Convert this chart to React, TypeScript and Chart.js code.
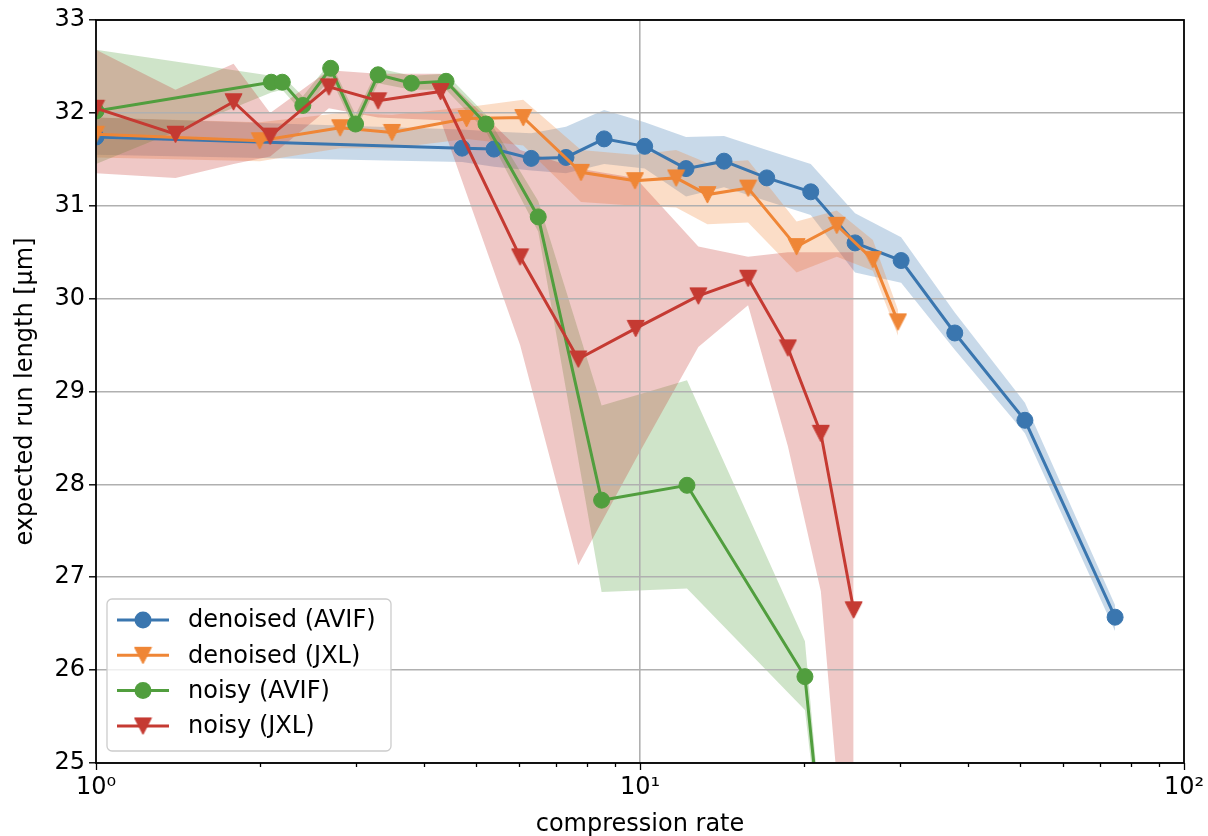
import React, { useEffect, useRef } from 'react';
import { Chart, registerables } from 'chart.js';

Chart.register(...registerables);

const FONT_FAMILY = '"DejaVu Sans", "Liberation Sans", sans-serif';
const FONT_SIZE = 24;

// ---- data ----
const BLUE_X = [1.0, 4.71, 5.39, 6.31, 7.31, 8.59, 10.2, 12.15, 14.27, 17.1, 20.6, 24.85, 30.2, 37.9, 51.0, 74.7];
const BLUE_Y = [31.74, 31.62, 31.61, 31.51, 31.52, 31.72, 31.64, 31.40, 31.48, 31.30, 31.15, 30.60, 30.41, 29.63, 28.69, 26.57];
const BLUE_UP = [31.95, 31.82, 31.80, 31.78, 31.85, 32.03, 31.90, 31.74, 31.75, 31.60, 31.45, 30.92, 30.66, 29.85, 28.88, 26.70];
const BLUE_LO = [31.55, 31.47, 31.42, 31.38, 31.35, 31.45, 31.40, 31.10, 31.20, 31.05, 30.90, 30.28, 30.17, 29.45, 28.55, 26.42];

const ORANGE_X = [1.0, 2.0, 2.81, 3.5, 4.8, 6.1, 7.79, 9.79, 11.65, 13.3, 15.8, 19.4, 23.0, 26.8, 29.8];
const ORANGE_Y = [31.77, 31.70, 31.84, 31.79, 31.94, 31.95, 31.36, 31.27, 31.30, 31.12, 31.19, 30.56, 30.79, 30.42, 29.75];
const ORANGE_UP = [31.95, 31.90, 32.00, 31.98, 32.06, 32.14, 31.60, 31.55, 31.60, 31.46, 31.49, 30.83, 30.95, 30.63, 29.88];
const ORANGE_LO = [31.52, 31.48, 31.62, 31.62, 31.72, 31.65, 31.04, 31.00, 30.98, 30.80, 30.82, 30.28, 30.45, 30.30, 29.60];

const GREEN_X = [1.0, 2.1, 2.2, 2.4, 2.7, 3.0, 3.3, 3.8, 4.4, 5.21, 6.5, 8.5, 12.2, 20.1, 21.2];
const GREEN_Y = [32.02, 32.33, 32.33, 32.08, 32.48, 31.88, 32.41, 32.32, 32.34, 31.88, 30.88, 27.83, 27.99, 25.93, 24.6];
const GREEN_UP = [32.68, 32.40, 32.40, 32.18, 32.55, 31.98, 32.48, 32.40, 32.42, 31.98, 31.05, 28.85, 29.12, 26.31, 24.8];
const GREEN_LO = [31.45, 32.22, 32.25, 32.00, 32.38, 31.80, 32.32, 32.25, 32.25, 31.80, 30.72, 26.84, 26.88, 25.57, 24.4];

const RED_X = [1.0, 1.4, 1.79, 2.09, 2.68, 3.3, 4.3, 6.02, 7.7, 9.82, 12.8, 15.8, 18.7, 21.5, 24.7];
const RED_Y = [32.05, 31.77, 32.12, 31.75, 32.28, 32.13, 32.23, 30.45, 29.35, 29.68, 30.03, 30.22, 29.47, 28.55, 26.65];
const RED_UP = [32.68, 32.25, 32.53, 32.00, 32.46, 32.42, 32.42, 31.60, 31.40, 31.30, 30.56, 30.45, 30.50, 30.50, 30.50];
const RED_LO = [31.35, 31.30, 31.45, 31.53, 32.05, 31.95, 31.92, 29.50, 27.13, 28.27, 29.48, 29.93, 28.41, 26.85, 22.7];

const X_TICKS = [1, 2, 3, 4, 5, 6, 7, 8, 9, 10, 20, 30, 40, 50, 60, 70, 80, 90, 100];
const X_TICK_LABELS: Record<number, string> = { 1: '10⁰', 10: '10¹', 100: '10²' };
const Y_MIN = 25;
const Y_MAX = 33;

const X_TITLE = 'compression rate';
const Y_TITLE = 'expected run length [µm]';

type Series = {
  label: string;
  color: string;
  marker: 'circle' | 'tri';
  xs: number[];
  ys: number[];
  up: number[];
  lo: number[];
};

const SERIES: Series[] = [
  { label: 'denoised (AVIF)', color: '#3a76af', marker: 'circle', xs: BLUE_X, ys: BLUE_Y, up: BLUE_UP, lo: BLUE_LO },
  { label: 'denoised (JXL)', color: '#ef8636', marker: 'tri', xs: ORANGE_X, ys: ORANGE_Y, up: ORANGE_UP, lo: ORANGE_LO },
  { label: 'noisy (AVIF)', color: '#519e3e', marker: 'circle', xs: GREEN_X, ys: GREEN_Y, up: GREEN_UP, lo: GREEN_LO },
  { label: 'noisy (JXL)', color: '#c53a32', marker: 'tri', xs: RED_X, ys: RED_Y, up: RED_UP, lo: RED_LO },
];

function hexToRgba(hex: string, a: number) {
  const r = parseInt(hex.slice(1, 3), 16);
  const g = parseInt(hex.slice(3, 5), 16);
  const b = parseInt(hex.slice(5, 7), 16);
  return `rgba(${r},${g},${b},${a})`;
}

function makeTriangle(color: string): HTMLCanvasElement {
  const c = document.createElement('canvas');
  c.width = 19;
  c.height = 19;
  const g = c.getContext('2d')!;
  g.fillStyle = color;
  g.strokeStyle = color;
  g.lineWidth = 1;
  g.lineJoin = 'miter';
  g.beginPath();
  g.moveTo(1, 1.5);
  g.lineTo(18, 1.5);
  g.lineTo(9.5, 18);
  g.closePath();
  g.fill();
  g.stroke();
  return c;
}

export default function App() {
  const ref = useRef<HTMLCanvasElement | null>(null);

  useEffect(() => {
    const canvas = ref.current;
    if (!canvas) return;
    Chart.defaults.color = '#000';
    Chart.defaults.font.family = FONT_FAMILY;

    const triangles: Record<string, HTMLCanvasElement> = {};
    SERIES.forEach((s) => {
      if (s.marker === 'tri') triangles[s.label] = makeTriangle(s.color);
    });

    const datasets: any[] = [];
    SERIES.forEach((s, i) => {
      datasets.push({
        label: s.label,
        data: s.xs.map((x, k) => ({ x, y: s.ys[k] })),
        borderColor: s.color,
        backgroundColor: s.color,
        borderWidth: 3,
        pointStyle: s.marker === 'tri' ? triangles[s.label] : 'circle',
        pointRadius: 8,
        pointBorderWidth: 1,
        pointBackgroundColor: s.color,
        pointBorderColor: s.color,
        pointHoverRadius: 8,
        fill: false,
        tension: 0,
        clip: 0,
        order: 10 - i,
        isLine: true,
        legendIndex: i,
      });
    });
    SERIES.forEach((s, i) => {
      const upIdx = datasets.length;
      datasets.push({
        label: s.label + ' band',
        data: s.xs.map((x, k) => ({ x, y: s.up[k] })),
        borderColor: 'rgba(0,0,0,0)',
        borderWidth: 0,
        pointRadius: 0,
        pointHoverRadius: 0,
        backgroundColor: hexToRgba(s.color, 0.28),
        fill: { target: upIdx + 1 },
        tension: 0,
        clip: 0,
        order: 30 - i,
      });
      datasets.push({
        label: s.label + ' band lo',
        data: s.xs.map((x, k) => ({ x, y: s.lo[k] })),
        borderColor: 'rgba(0,0,0,0)',
        borderWidth: 0,
        pointRadius: 0,
        pointHoverRadius: 0,
        fill: false,
        tension: 0,
        clip: 0,
        order: 30 - i,
      });
    });

    const frameAndTicks = {
      id: 'frameAndTicks',
      afterDatasetsDraw(chart: any) {
        const { ctx, chartArea } = chart;
        const xs = chart.scales.x;
        ctx.save();
        ctx.strokeStyle = '#000';
        ctx.lineWidth = 1.3;
        xs.ticks.forEach((t: any) => {
          const px = xs.getPixelForValue(t.value);
          const lg = Math.log10(t.value);
          const major = Math.abs(lg - Math.round(lg)) < 1e-9;
          const len = major ? 7 : 4;
          ctx.beginPath();
          ctx.moveTo(Math.round(px) + 0.5, chartArea.bottom);
          ctx.lineTo(Math.round(px) + 0.5, chartArea.bottom + len);
          ctx.stroke();
        });
        ctx.lineWidth = 1.8;
        ctx.strokeRect(chartArea.left, chartArea.top, chartArea.right - chartArea.left, chartArea.bottom - chartArea.top);
        ctx.restore();
      },
    };

    const legendPlugin = {
      id: 'mplLegend',
      afterDraw(chart: any) {
        const { ctx, chartArea } = chart;
        const items = chart.data.datasets.filter((d: any) => d.isLine).sort((a: any, b: any) => a.legendIndex - b.legendIndex);
        const bx = chartArea.left + 11;
        const bw = 284;
        const rowH = 35.3;
        const bh = 152;
        const by = chartArea.bottom - 12 - bh;
        const r = 5;
        ctx.save();
        ctx.beginPath();
        ctx.moveTo(bx + r, by);
        ctx.lineTo(bx + bw - r, by);
        ctx.arcTo(bx + bw, by, bx + bw, by + r, r);
        ctx.lineTo(bx + bw, by + bh - r);
        ctx.arcTo(bx + bw, by + bh, bx + bw - r, by + bh, r);
        ctx.lineTo(bx + r, by + bh);
        ctx.arcTo(bx, by + bh, bx, by + bh - r, r);
        ctx.lineTo(bx, by + r);
        ctx.arcTo(bx, by, bx + r, by, r);
        ctx.closePath();
        ctx.fillStyle = 'rgba(255,255,255,0.8)';
        ctx.fill();
        ctx.strokeStyle = '#cccccc';
        ctx.lineWidth = 1.3;
        ctx.stroke();

        ctx.font = `${FONT_SIZE}px ${FONT_FAMILY}`;
        ctx.textBaseline = 'middle';
        ctx.textAlign = 'left';
        items.forEach((d: any, i: number) => {
          const cy = by + 21 + i * rowH;
          const x0 = bx + 10;
          const x1 = bx + 62;
          const xm = (x0 + x1) / 2;
          ctx.strokeStyle = d.borderColor;
          ctx.lineWidth = 3;
          ctx.beginPath();
          ctx.moveTo(x0, cy);
          ctx.lineTo(x1, cy);
          ctx.stroke();
          if (typeof d.pointStyle === 'string') {
            ctx.fillStyle = d.borderColor;
            ctx.beginPath();
            ctx.arc(xm, cy, 8.5, 0, Math.PI * 2);
            ctx.fill();
          } else {
            const im = d.pointStyle as HTMLCanvasElement;
            ctx.drawImage(im, xm - im.width / 2, cy - im.height / 2);
          }
          ctx.fillStyle = '#000';
          ctx.fillText(d.label, bx + 81, cy + 1);
        });
        ctx.restore();
      },
    };

    const font = { family: FONT_FAMILY, size: FONT_SIZE };

    const chart = new Chart(canvas, {
      type: 'line',
      data: { datasets },
      options: {
        responsive: false,
        animation: false,
        devicePixelRatio: 1,
        layout: { padding: { top: 20, right: 24, left: 0, bottom: 0 } },
        plugins: {
          legend: { display: false },
          tooltip: { enabled: false },
          filler: { drawTime: 'beforeDraw', propagate: false },
        },
        events: [],
        scales: {
          x: {
            type: 'logarithmic',
            min: 1,
            max: 100,
            afterBuildTicks: (scale: any) => {
              scale.ticks = X_TICKS.map((v) => ({ value: v }));
            },
            afterFit: (scale: any) => {
              scale.height = 73;
            },
            ticks: {
              font,
              color: '#000',
              padding: 3,
              autoSkip: false,
              maxRotation: 0,
              minRotation: 0,
              callback: (value: any) => X_TICK_LABELS[Number(value)] ?? '',
            },
            grid: {
              color: (ctx: any) => (ctx.tick && ctx.tick.value === 10 ? '#b0b0b0' : 'rgba(0,0,0,0)'),
              lineWidth: 1.6,
              tickLength: 7,
              tickColor: 'rgba(0,0,0,0)',
            },
            border: { display: false },
            title: {
              display: true,
              text: X_TITLE,
              font,
              color: '#000',
              padding: { top: 0, bottom: -3 },
            },
          },
          y: {
            type: 'linear',
            min: Y_MIN,
            max: Y_MAX,
            afterFit: (scale: any) => {
              scale.width = 96;
            },
            ticks: {
              stepSize: 1,
              font,
              color: '#000',
              padding: 4,
            },
            grid: {
              color: '#b0b0b0',
              lineWidth: 1.6,
              tickLength: 7,
              tickColor: '#000',
              tickWidth: 1.4,
            },
            border: { display: false },
            title: {
              display: true,
              text: Y_TITLE,
              font,
              color: '#000',
              padding: { top: 11, bottom: 0 },
            },
          },
        },
      } as any,
      plugins: [frameAndTicks, legendPlugin],
    });

    return () => {
      chart.destroy();
    };
  }, []);

  return (
    <div style={{ position: 'absolute', left: 0, top: 0, width: 1208, height: 836, background: '#fff' }}>
      <canvas ref={ref} width={1208} height={836} style={{ display: 'block', width: 1208, height: 836 }} />
    </div>
  );
}
